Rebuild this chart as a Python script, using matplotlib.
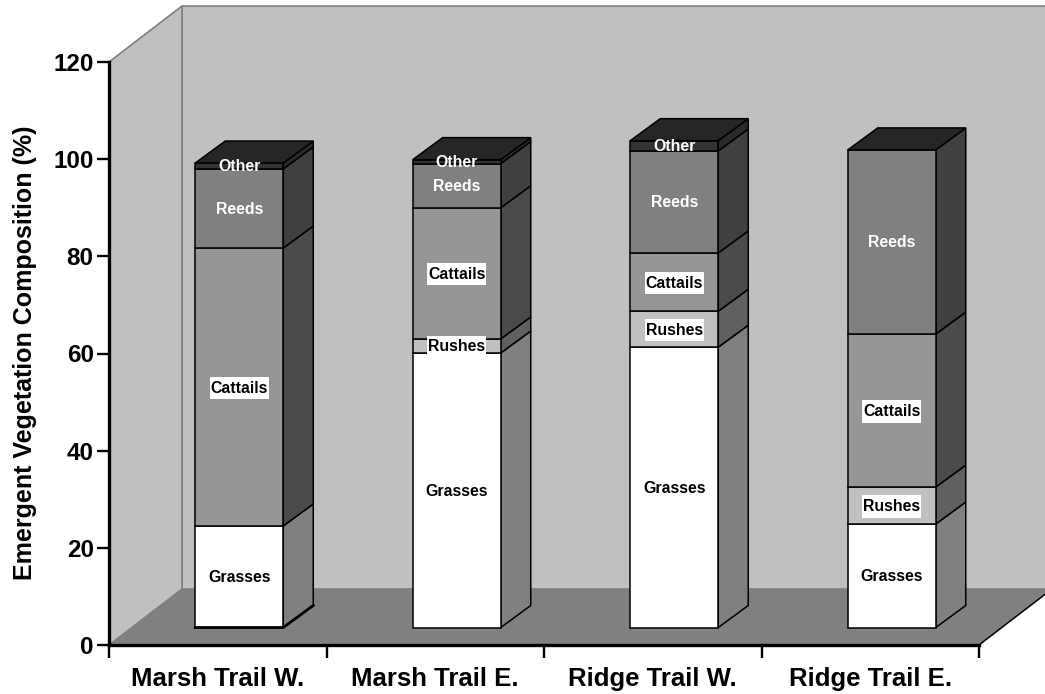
import matplotlib
matplotlib.use("Agg")
import numpy as np
import matplotlib.pyplot as plt
from matplotlib.patches import Polygon

plt.rcParams['font.family'] = ['Liberation Sans', 'DejaVu Sans']

# Data (%)
sites = ['Marsh Trail W.', 'Marsh Trail E.', 'Ridge Trail W.', 'Ridge Trail E.']
species = ['Grasses', 'Rushes', 'Cattails', 'Reeds', 'Other']
grasses = [20.9, 56.5, 57.7, 21.3]
rushes = [0.0, 2.9, 7.4, 7.6]
cattails = [57.2, 27.0, 12.0, 31.5]
reeds = [16.3, 9.1, 21.0, 37.9]
other = [1.2, 0.8, 2.1, 0.0]
series = [grasses, rushes, cattails, reeds, other]
yticks = [0, 20, 40, 60, 80, 100, 120]

# Styles per species
front_colors = ['#FFFFFF', '#C0C0C0', '#969696', '#808080', '#333333']
side_colors = ['#808080', '#606060', '#4B4B4B', '#404040', '#2B2B2B']
text_colors = ['black', 'black', 'black', 'white', 'white']
boxed = [False, True, True, False, False]
top_color = '#262626'

# Figure and plot area (front plane of the fake 3D box)
W, H = 1045, 694
fig = plt.figure(figsize=(W / 100, H / 100), dpi=100)
ax = fig.add_axes([109 / W, (H - 645) / H, (979 - 109) / W, (645 - 62) / H])
ax.set_xlim(-0.5, 3.5)
ax.set_ylim(0, 120)

# Pixel sizes to data units
px_x = 4 / (979 - 109)
px_y = 120 / (645 - 62)
depth_x = 73 * px_x
depth_y = 56 * px_y
bar_dx = 30 * px_x
bar_dy = 22 * px_y
off_x = 21.5 * px_x
off_y = 17.5 * px_y
bar_width = 88 * px_x

x0, x1 = ax.get_xlim()
y0, y1 = ax.get_ylim()

# Back wall, side wall, floor
wall = '#C0C0C0'
ax.add_patch(Polygon([(x0 + depth_x, y0 + depth_y), (x1 + depth_x, y0 + depth_y),
                      (x1 + depth_x, y1 + depth_y), (x0 + depth_x, y1 + depth_y)],
                     facecolor=wall, edgecolor='#808080', lw=1.2, clip_on=False, zorder=1))
ax.add_patch(Polygon([(x0, y0), (x0 + depth_x, y0 + depth_y),
                      (x0 + depth_x, y1 + depth_y), (x0, y1)],
                     facecolor=wall, edgecolor='#808080', lw=1.2, clip_on=False, zorder=1))
ax.add_patch(Polygon([(x0, y0), (x1, y0), (x1 + depth_x, y0 + depth_y), (x0 + depth_x, y0 + depth_y)],
                     facecolor='#808080', edgecolor='none', clip_on=False, zorder=2))
ax.plot([x1, x1 + depth_x], [y0, y0 + depth_y], color='black', lw=1.1, clip_on=False, zorder=2)

# Stacked bars
for i in range(len(sites)):
    xc = i + off_x
    left = xc - bar_width / 2
    right = xc + bar_width / 2
    bottom = off_y
    for j in range(len(species)):
        val = series[j][i]
        if val == 0:
            continue
        top = bottom + val
        ax.add_patch(Polygon([(right, bottom), (right + bar_dx, bottom + bar_dy),
                              (right + bar_dx, top + bar_dy), (right, top)],
                             facecolor=side_colors[j], edgecolor='black', lw=1.1,
                             clip_on=False, zorder=3))
        ax.bar(xc, val, width=bar_width, bottom=bottom, color=front_colors[j],
               edgecolor='black', linewidth=1.1, clip_on=False, zorder=4)
        bbox = None
        if boxed[j]:
            # label boxes are tight sideways, taller than the text
            bbox = dict(boxstyle='square,pad=0.065', mutation_aspect=3.5,
                        facecolor='white', edgecolor='none')
        ax.text(xc, bottom + val / 2 - px_y, species[j], color=text_colors[j], fontsize=11.4,
                fontweight='bold', ha='center', va='center', bbox=bbox, zorder=6)
        bottom = top
    # Top face of the stack
    ax.add_patch(Polygon([(left, bottom), (right, bottom), (right + bar_dx, bottom + bar_dy),
                          (left + bar_dx, bottom + bar_dy)],
                         facecolor=top_color, edgecolor='black', lw=1.1,
                         clip_on=False, zorder=5))

# First bar sits on a heavier bottom edge
ax.plot([0 + off_x - bar_width / 2, 0 + off_x + bar_width / 2, 0 + off_x + bar_width / 2 + bar_dx],
        [off_y, off_y, off_y + bar_dy], color='black', lw=2, clip_on=False, zorder=5)

# Axes
ax.patch.set_visible(False)
ax.spines['top'].set_visible(False)
ax.spines['right'].set_visible(False)
ax.spines['left'].set_linewidth(2.4)
ax.spines['bottom'].set_linewidth(2.4)
ax.spines['left'].set_zorder(7)
ax.spines['bottom'].set_zorder(7)

ax.set_yticks(yticks)
ax.tick_params(axis='y', length=9, width=1.7, labelsize=17.5, pad=2)
ax.set_xticks([-0.5, 0.5, 1.5, 2.5, 3.5])
ax.set_xticklabels([])
ax.tick_params(axis='x', which='major', length=9, width=1.7)
ax.set_xticks(np.arange(len(sites)), minor=True)
ax.set_xticklabels(sites, minor=True)
ax.tick_params(axis='x', which='minor', length=0, labelsize=18.5, pad=15.5)
for lab in ax.get_xticklabels(minor=True) + ax.get_yticklabels():
    lab.set_fontweight('bold')

ax.set_ylabel('Emergent Vegetation Composition (%)', fontsize=18, fontweight='bold')
ax.yaxis.set_label_coords((37 - 109) / (979 - 109), (645 - 353) / (645 - 62))

fig.savefig('out.png', dpi=100, facecolor='white')
